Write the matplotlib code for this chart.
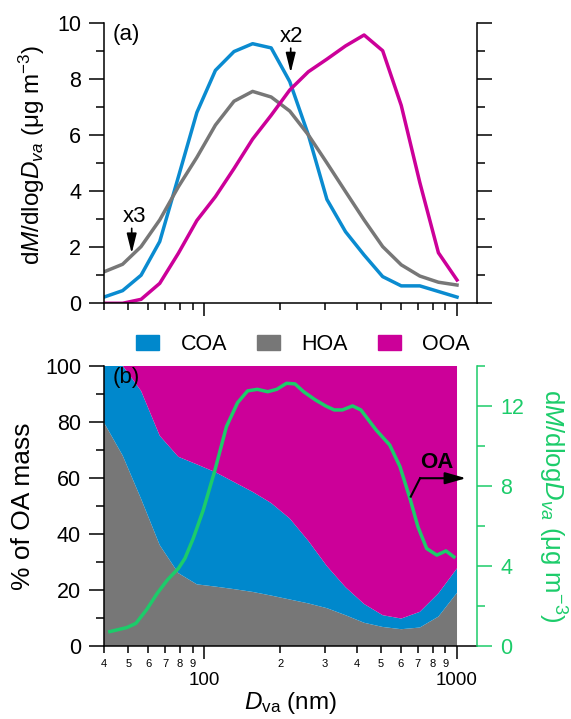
import matplotlib
matplotlib.use('Agg')
from matplotlib import pyplot as plt
from matplotlib.patches import Patch

plt.rcParams['font.family'] = ['Liberation Sans', 'DejaVu Sans']
plt.rcParams['mathtext.fontset'] = 'custom'
plt.rcParams['mathtext.rm'] = 'Liberation Sans'
plt.rcParams['mathtext.it'] = 'Liberation Sans:italic'

# size bins (nm)
dva = [40, 47.4, 56.1, 66.5, 78.8, 93.3, 110.5, 130.9, 155.1, 183.7,
       217.6, 257.8, 305.4, 361.8, 428.6, 507.7, 601.4, 712.5, 844.0, 1000]

# (a) mass size distributions (HOA x3, COA x2 already applied)
coa_dist = [0.22, 0.45, 1.0, 2.2, 4.5, 6.8, 8.3, 8.97, 9.25, 9.1,
            7.9, 6.0, 3.7, 2.55, 1.72, 0.95, 0.62, 0.62, 0.42, 0.22]
hoa_dist = [1.12, 1.39, 2.02, 2.97, 4.15, 5.2, 6.35, 7.2, 7.55, 7.35,
            6.85, 6.0, 5.0, 3.98, 2.97, 2.02, 1.37, 0.97, 0.75, 0.65]
ooa_dist = [0.0, 0.0, 0.14, 0.71, 1.78, 2.95, 3.8, 4.8, 5.85, 6.7,
            7.6, 8.25, 8.7, 9.17, 9.56, 9.0, 7.05, 4.3, 1.8, 0.83]

# (b) fraction of OA mass (%)
hoa_pct = [79.7, 68.0, 52.5, 36.0, 26.0, 22.0, 21.2, 20.3, 19.3, 18.0,
           16.6, 15.2, 13.5, 11.0, 8.3, 6.8, 6.0, 6.6, 10.5, 19.0]
coa_pct = [20.3, 32.0, 38.5, 39.0, 41.5, 42.8, 40.8, 38.2, 35.7, 33.0,
           28.9, 22.3, 15.0, 10.0, 6.7, 4.2, 3.8, 5.6, 8.3, 8.7]
ooa_pct = [0.0, 0.0, 9.0, 25.0, 32.5, 35.2, 38.0, 41.5, 45.0, 49.0,
           54.5, 62.5, 71.5, 79.0, 85.0, 89.0, 90.2, 87.8, 81.2, 72.3]

# total OA size distribution
oa_dva = [42.2, 49.2, 53.5, 59.1, 65.0, 71.3, 78.9, 83.7, 90.3, 98.9,
          109.6, 122.2, 135.2, 148.1, 162.0, 178.0, 193.3, 211.3, 228.2, 247.0,
          274.9, 301.8, 326.4, 351.5, 385.8, 416.2, 478.2, 541.3, 594.5, 654.0,
          700.0, 758.0, 832.0, 904.0, 972.0]
oa_dist = [0.72, 0.92, 1.13, 1.83, 2.63, 3.30, 3.88, 4.38, 5.38, 6.79,
           8.71, 10.96, 12.15, 12.74, 12.82, 12.70, 12.82, 13.12, 13.09, 12.70,
           12.29, 11.99, 11.79, 11.79, 11.99, 11.79, 10.79, 10.04, 8.96, 7.29,
           5.96, 4.87, 4.54, 4.75, 4.45]

names = ['COA', 'HOA', 'OOA']
minor_ticks = [40, 50, 60, 70, 80, 90, 200, 300, 400, 500, 600, 700, 800, 900]
minor_labels = ['4', '5', '6', '7', '8', '9', '2', '3', '4', '5', '6', '7', '8', '9']

BLUE = '#0a8bd0'
BLUE_FILL = '#0088cc'
GRAY = '#777777'
MAG = '#cc0099'
GREEN = '#1ccc6a'

fig = plt.figure(figsize=(5.71, 7.19), dpi=100)
axA = fig.add_axes([0.1821, 0.5782, 0.6533, 0.3903])
axB = fig.add_axes([0.1821, 0.1015, 0.6533, 0.3899])

def style_x(ax, labels):
    ax.set_xscale('log')
    ax.set_xlim(40, 1200)
    ax.set_xticks([100, 1000], ['100', '1000'] if labels else ['', ''])
    ax.set_xticks(minor_ticks, minor_labels if labels else [''] * len(minor_ticks), minor=True)
    ax.tick_params(axis='x', which='major', direction='out', length=9.5, width=1.1,
                   labelsize=13.5, pad=9)
    ax.tick_params(axis='x', which='minor', direction='out', length=5, width=1.1,
                   labelsize=8, pad=4)
    for s in ax.spines.values():
        s.set_linewidth(1.1)
    ax.spines['top'].set_visible(False)

# ---- panel (a)
axA.plot(dva, coa_dist, color=BLUE, lw=2.5)
axA.plot(dva, hoa_dist, color=GRAY, lw=2.5)
axA.plot(dva, ooa_dist, color=MAG, lw=2.5)
style_x(axA, False)
axA.set_ylim(0, 10)
axA.set_yticks([0, 2, 4, 6, 8, 10])
axA.set_yticks([1, 3, 5, 7, 9], minor=True)
axA.tick_params(axis='y', which='both', direction='out', right=True, labelright=False,
                width=1.1, labelsize=15.5, pad=6)
axA.tick_params(axis='y', which='major', length=10.5)
axA.tick_params(axis='y', which='minor', length=6)
axA.set_ylabel(r'd$\mathit{M}$/dlog$\mathit{D}_{\mathit{va}}$ (μg m$^{-3}$)', fontsize=17.5)
axA.yaxis.set_label_coords(-0.153, 0.53)
axA.text(0.024, 0.995, '(a)', transform=axA.transAxes, ha='left', va='top', fontsize=16)

arrow_kw = dict(arrowstyle='-|>,head_length=1.2,head_width=0.3', color='k', lw=1.2,
                mutation_scale=10, shrinkA=0, shrinkB=0)
axA.text(53, 3.09, 'x3', ha='center', va='center', fontsize=16)
axA.annotate('', xy=(51.5, 1.78), xytext=(51.5, 2.67), arrowprops=arrow_kw)
axA.text(222, 9.52, 'x2', ha='center', va='center', fontsize=16)
axA.annotate('', xy=(219.5, 8.22), xytext=(219.5, 9.09), arrowprops=arrow_kw)

# ---- panel (b)
axB.stackplot(dva, hoa_pct, coa_pct, ooa_pct, colors=[GRAY, BLUE_FILL, MAG], lw=0)
style_x(axB, True)
axB.spines['right'].set_visible(False)
axB.set_ylim(0, 100)
axB.set_yticks([0, 20, 40, 60, 80, 100])
axB.set_yticks([10, 30, 50, 70, 90], minor=True)
axB.tick_params(axis='y', which='both', direction='out', width=1.1, labelsize=15.5, pad=6)
axB.tick_params(axis='y', which='major', length=10.5)
axB.tick_params(axis='y', which='minor', length=6)
axB.set_ylabel('% of OA mass', fontsize=19)
axB.yaxis.set_label_coords(-0.186, 0.5)
axB.set_xlabel(r'$\mathit{D}_{\mathrm{va}}$ (nm)', fontsize=17.5)
axB.xaxis.set_label_coords(0.499, -0.158)
axB.xaxis.label.set_va('top')
axB.text(0.024, 0.995, '(b)', transform=axB.transAxes, ha='left', va='top', fontsize=16)

axR = axB.twinx()
axR.plot(oa_dva, oa_dist, color=GREEN, lw=2.5)
axR.set_ylim(0, 14)
axR.set_yticks([0, 4, 8, 12])
axR.set_yticks([2, 6, 10, 14], minor=True)
for side in ['left', 'top', 'bottom']:
    axR.spines[side].set_visible(False)
axR.spines['right'].set_color(GREEN)
axR.spines['right'].set_linewidth(1.1)
axR.tick_params(axis='y', which='both', direction='out', color=GREEN, labelcolor=GREEN,
                width=1.1, labelsize=15.5, pad=6.5)
axR.tick_params(axis='y', which='major', length=10.5)
axR.tick_params(axis='y', which='minor', length=6)
axR.set_ylabel(r'd$\mathit{M}$/dlog$\mathit{D}_{\mathit{va}}$ (μg m$^{-3}$)', fontsize=18.5,
               color=GREEN, rotation=-90, va='bottom')
axR.yaxis.set_label_coords(1.158, 0.5)

# OA pointer
axR.plot([656, 714], [7.46, 8.38], color='k', lw=1.5)
axR.annotate('', xy=(1086, 8.38), xytext=(714, 8.38),
             arrowprops=dict(arrowstyle='-|>,head_length=1.27,head_width=0.36', color='k',
                             lw=1.5, mutation_scale=10, shrinkA=0, shrinkB=0))
axR.text(714, 9.17, 'OA', ha='left', va='center', fontsize=16, fontweight='bold')

# legend between panels
handles = [Patch(color=c, label=n) for c, n in zip([BLUE_FILL, GRAY, MAG], names)]
fig.legend(handles=handles, loc='center', bbox_to_anchor=(303 / 571, 1 - 344.7 / 719),
           ncol=3, frameon=False, fontsize=15.5, handlelength=1.06, handleheight=0.67,
           handletextpad=1.0, columnspacing=1.4, borderpad=0, borderaxespad=0)

fig.savefig('out.png', dpi=100)
